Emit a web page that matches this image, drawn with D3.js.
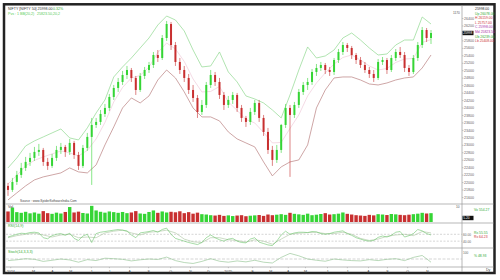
<!DOCTYPE html>
<html>
<head>
<meta charset="utf-8">
<script src="https://cdn.jsdelivr.net/npm/d3@7"></script>
<style>
body{margin:0;background:#fff}
svg{display:block;font-family:"Liberation Sans",Arial,sans-serif}
</style>
</head>
<body>
<script>
// weekly candles
var opens  = [21898,21790,22005,22192,22380,22541,22648,22809,22862,22541,22434,22648,22862,22943,22809,23050,22728,22434,22916,23211,
              23532,23613,23827,23988,24283,24524,24685,24872,25006,24792,24470,24846,25006,25140,25408,25328,25864,26239,25676,25221,
              25006,24792,24470,24256,23881,24068,24604,24872,24685,24336,24068,24202,24336,23988,23720,23613,23881,24122,23720,23345,
              22862,22594,22862,23532,23988,23800,24068,24417,24604,24685,24953,25060,25140,25006,24953,25274,25489,25676,25596,25408,
              25274,25140,25006,24899,24792,25221,25274,25006,25328,25489,25408,25060,24953,25328,25676,26078,25864];
var highs  = [21978,22112,22300,22514,22675,22782,22943,23023,22916,22648,22755,22970,23050,22996,23157,23104,22809,22996,23318,23720,
              23720,23934,24095,24363,24604,24792,24980,25114,25060,24846,24926,25087,25221,25489,25542,25944,26320,26293,25757,25328,
              25114,24899,24604,24336,24202,24685,25006,24953,24792,24417,24310,24417,24390,24068,23774,23988,24202,24202,23800,23452,
              22970,22996,23559,24095,24068,24149,24497,24685,24792,25033,25167,25221,25194,25087,25328,25569,25757,25730,25650,25462,
              25355,25221,25087,25006,25301,25355,25328,25408,25569,25623,25489,25140,25408,25757,26159,26132,26078];
var lows   = [21630,21737,21924,22112,22300,22434,22568,22702,22434,22326,22380,22568,22755,22675,22728,22621,22326,22380,22836,21924,
              23452,23532,23747,23908,24202,24417,24604,24765,24685,24336,24417,24765,24926,25060,25221,25274,25784,25542,25114,24899,
              24685,24363,24149,23720,23800,23988,24524,24578,24229,23934,23988,24095,23881,23613,23479,23532,23800,23613,23238,22755,
              22434,22514,22782,23452,22139,23720,23988,24336,24470,24604,24846,24980,24899,24846,24872,25194,25408,25489,25301,25167,
              25060,24926,24792,24685,24738,25140,24899,24953,25248,25328,24953,24846,24899,25248,25596,25757,25703];
var closes = [21790,22005,22192,22380,22541,22648,22809,22862,22541,22434,22648,22862,22943,22809,23050,22728,22434,22916,23211,23532,
              23613,23827,23988,24283,24524,24685,24872,25006,24792,24470,24846,25006,25140,25408,25328,25864,26239,25676,25221,25006,
              24792,24470,24256,23881,24068,24604,24872,24685,24336,24068,24202,24336,23988,23720,23613,23881,24122,23720,23345,22862,
              22594,22862,23532,23988,23800,24068,24417,24604,24685,24953,25060,25140,25006,24953,25274,25489,25676,25596,25408,25274,
              25140,25006,24899,24792,25221,25274,25006,25328,25489,25408,25060,24953,25328,25676,26078,25864,25998];

// bollinger bands, every second week
var upperBand = [22380,22648,22970,23104,23211,23318,23425,23184,23130,23452,23854,24202,24819,25087,25328,25596,25864,26212,26453,26346,
                 26052,25542,25087,25114,25489,24953,24685,24310,24229,24122,23934,23720,24336,25006,25623,25328,25382,25542,25864,25998,
                 25810,25596,25408,25435,25676,25810,25810,26427,26239];
var lowerBand = [21522,21710,21898,22058,22139,22192,22246,22380,22273,22246,22460,22996,23479,23988,24256,24122,24310,24738,25006,24792,
                 24417,23988,23747,23747,23640,23345,23157,23050,22943,22541,22166,22407,22541,22594,22996,23988,24470,24792,24819,24819,
                 24738,24631,24604,24658,24738,24792,24819,25060,25408];

var volumes = [6.2,8.5,5.8,5.4,6.0,5.1,5.6,4.9,6.4,5.2,4.8,5.5,5.0,5.9,8.8,5.6,6.1,5.3,5.0,9.5,
               6.8,6.0,5.5,6.2,5.8,5.4,5.9,5.2,5.6,6.4,5.0,4.8,5.9,6.8,5.4,6.2,5.6,6.0,5.7,6.3,
               5.2,5.8,4.9,5.5,4.6,4.4,4.0,3.8,4.2,3.6,3.9,3.5,3.8,4.0,3.4,3.7,3.9,4.1,3.6,4.4,
               4.0,4.3,4.6,4.2,5.4,4.8,4.5,4.2,4.9,4.0,4.3,4.7,5.2,4.4,4.6,4.9,5.6,4.8,4.4,4.0,
               3.8,3.6,4.2,3.9,4.6,4.4,4.1,4.7,4.5,4.2,4.0,4.3,4.6,4.9,5.4,5.0,5.2];

var rsi = [52,56,60,63,62,65,66,64,50,47,56,60,62,57,63,48,42,55,60,36,
           62,66,68,70,72,74,72,70,58,50,64,66,68,71,66,74,78,60,48,44,
           40,36,33,30,36,50,58,50,44,40,46,48,40,36,35,46,50,37,33,29,
           27,40,58,69,60,64,66,66,65,68,67,62,60,62,66,68,70,62,57,50,
           46,42,40,42,51,55,52,57,66,68,52,56,62,74,70,62,58];
var rsiSignal = [50,56,60,63,58,52,58,60,50,52,50,64,69,72,64,58,66,68,72,64,
                 46,38,36,50,50,44,42,37,44,40,31,46,60,63,65,66,62,62,66,60,
                 48,42,46,54,58,60,56,68,64];
var stoch = [40,45,52,48,35,42,50,44,30,46,40,55,52,48,38,45,50,47,62,40,
             28,22,35,52,36,30,38,32,42,30,25,60,85,70,50,42,36,50,44,40,
             38,46,40,48,52,40,60,72,30];

var priceTicks = d3.range(21600, 26401, 200);
var monthTickWeeks = [0.5,5.7,10,14.1,18.8,22.9,27.5,31.8,36.8,41.3,45.4,49.9,55.4,59.5,63.5,67.4,72.4,76.9,81.7,86,90.6,95.1];
var monthLabels = ['2024','M','A','M','J','J','A','S','O','N','D','2025','F','M','A','M','J','J','A','S','O','N'];

var priceLegend = [['25998.00','#222'],['Up 26078.00','#3a3'],['H 26159.00','#c33'],['L 25757.00','#c33'],
                   ['C 25998.00','#a3a'],['Md 25823.50','#a3a'],['Ub 26239.00','#3a3'],['Lb 25408.00','#c33']];

var W = 500, H = 280;
var GREEN = '#35d535', RED = '#c83030';
var bandStep = 2;
var lastClose = closes[closes.length - 1];

var svg = d3.select('body').append('svg').attr('width', W).attr('height', H);

var x = d3.scaleLinear().domain([0, closes.length - 1]).range([8, 431]);
var y = d3.scaleLinear().domain([21600, 26400]).range([197, 18]);
var yVol = d3.scaleLinear().domain([0, 10]).range([222, 205]);
var yRsi = d3.scaleLinear().domain([20, 90]).range([248, 224]);
var ySto = d3.scaleLinear().domain([0, 100]).range([267, 251]);

// frame + panel separators
svg.append('rect').attr('x', 4).attr('y', 4.3).attr('width', 490.5).attr('height', 268.7)
    .attr('fill', '#fff').attr('stroke', '#222').attr('stroke-width', 2.5);
[204, 223, 248, 267].forEach(function(py){
    svg.append('line').attr('x1', 5.5).attr('x2', 493.5).attr('y1', py).attr('y2', py)
        .attr('stroke', '#9a9a9a').attr('stroke-width', 0.7);
});
svg.append('line').attr('x1', 462).attr('x2', 462).attr('y1', 5.5).attr('y2', 272)
    .attr('stroke', '#9a9a9a').attr('stroke-width', 0.7);

// price axis (the tick hidden behind the last-value box is skipped)
var yAxis = svg.append('g').attr('transform', 'translate(462,0)')
    .call(d3.axisRight(y).tickValues(priceTicks.filter(function(t){ return Math.abs(y(t) - y(lastClose)) > 4; }))
        .tickSize(1.5).tickFormat(d3.format('d')));
yAxis.select('.domain').remove();
yAxis.selectAll('line').attr('stroke', '#999').attr('stroke-width', 0.5);
yAxis.selectAll('text').attr('font-size', 3.6).attr('fill', '#666').attr('x', 2);

// bands
var band = d3.line().x(function(d, i){ return x(i * bandStep); }).y(function(d){ return y(d); });
var midBand = upperBand.map(function(u, i){ return (u + lowerBand[i]) / 2; });
svg.append('path').attr('d', band(midBand)).attr('fill', 'none').attr('stroke', '#ecc3d3').attr('stroke-width', 0.6);
svg.append('path').attr('d', band(upperBand)).attr('fill', 'none').attr('stroke', '#8fd88f').attr('stroke-width', 0.7);
svg.append('path').attr('d', band(lowerBand)).attr('fill', 'none').attr('stroke', '#b98080').attr('stroke-width', 0.7);

// candles
var candles = svg.append('g').selectAll('g').data(closes).enter().append('g');
candles.append('line')
    .attr('x1', function(d, i){ return x(i); }).attr('x2', function(d, i){ return x(i); })
    .attr('y1', function(d, i){ return y(highs[i]); }).attr('y2', function(d, i){ return y(lows[i]); })
    .attr('stroke', function(d, i){ return d >= opens[i] ? GREEN : RED; }).attr('stroke-width', 0.6);
candles.append('rect')
    .attr('x', function(d, i){ return x(i) - 1; }).attr('width', 2)
    .attr('y', function(d, i){ return y(Math.max(d, opens[i])); })
    .attr('height', function(d, i){ return Math.max(0.7, Math.abs(y(d) - y(opens[i]))); })
    .attr('fill', function(d, i){ return d >= opens[i] ? GREEN : RED; });

// volume
svg.append('g').selectAll('rect').data(volumes).enter().append('rect')
    .attr('x', function(d, i){ return x(i) - 1.7; }).attr('width', 3.4)
    .attr('y', function(d){ return yVol(d); })
    .attr('height', function(d){ return yVol(0) - yVol(d); })
    .attr('fill', function(d, i){ return closes[i] >= opens[i] ? GREEN : RED; });

// rsi
[60, 40].forEach(function(v){
    svg.append('line').attr('x1', 6).attr('x2', 462).attr('y1', yRsi(v)).attr('y2', yRsi(v))
        .attr('stroke', '#aaa').attr('stroke-width', 0.5).attr('stroke-dasharray', '2,1.5');
});
var rsiLine = d3.line().x(function(d, i){ return x(i); }).y(function(d){ return yRsi(d); });
var sigLine = d3.line().x(function(d, i){ return x(i * bandStep); }).y(function(d){ return yRsi(d); });
svg.append('path').attr('d', sigLine(rsiSignal)).attr('fill', 'none').attr('stroke', '#a9c4a0').attr('stroke-width', 0.6);
svg.append('path').attr('d', rsiLine(rsi)).attr('fill', 'none').attr('stroke', '#6cc46c').attr('stroke-width', 0.6);

// stochastic
svg.append('line').attr('x1', 6).attr('x2', 462).attr('y1', ySto(50)).attr('y2', ySto(50))
    .attr('stroke', '#aaa').attr('stroke-width', 0.5).attr('stroke-dasharray', '3,1.5');
var stoLine = d3.line().x(function(d, i){ return x(i * bandStep); }).y(function(d){ return ySto(d); });
svg.append('path').attr('d', stoLine(stoch)).attr('fill', 'none').attr('stroke', '#8bbf8b').attr('stroke-width', 0.6);

// time axis
var xAxis = svg.append('g').attr('transform', 'translate(0,267)')
    .call(d3.axisBottom(x).tickValues(monthTickWeeks).tickSize(1.2)
        .tickFormat(function(d, i){ return monthLabels[i]; }));
xAxis.select('.domain').remove();
xAxis.selectAll('line').attr('stroke', '#999').attr('stroke-width', 0.5);
xAxis.selectAll('text').attr('font-size', 3.6).attr('fill', '#444').attr('dy', '0.4em');

// texts
function txt(tx, ty, s, col, fs){
    return svg.append('text').attr('x', tx).attr('y', ty).text(s)
        .attr('font-size', fs || 3.6).attr('fill', col);
}
txt(8, 10, 'NIFTY [NIFTY 50] 25998.00', '#333');
txt(53, 10, '0.32%', '#3a3');
txt(8, 15, 'Pvs : 1  BB(20,2)', '#5c5');
txt(37, 15, '25823.50,20,2', '#5c5');
txt(453, 14, '1170', '#555', 3.2);
txt(20, 201.5, 'Source : www.SpiderSoftwareIndia.Com', '#444', 3.2);
txt(8, 208, 'Vol', '#444');
txt(8, 227, 'RSI(14,9)', '#3a3');
txt(8, 252.5, 'Stoch(14,3,3,3)', '#3a3');
txt(456, 208, '10', '#555', 3.2);
txt(463, 236, '60.00', '#666', 3.2);
txt(463, 243, '40.00', '#666', 3.2);
txt(463, 254, '100', '#666', 3.2);
txt(486, 270.5, 'Dy', '#444');

priceLegend.forEach(function(p, i){
    txt(475, 10 + i * 4.6, p[0], p[1], 3.4);
});
txt(474, 211, 'Vo 554.27', '#3a3', 3.4);
txt(474, 234, 'Rs 55.55', '#3a3', 3.4);
txt(474, 238, 'Rs 64.23', '#c33', 3.4);
txt(474, 257, '% 48.93', '#3a3', 3.4);

// black last-value boxes on the axis
function box(by, s){
    svg.append('rect').attr('x', 462.5).attr('y', by - 2.2).attr('width', 11).attr('height', 4.4).attr('fill', '#111');
    svg.append('text').attr('x', 463.3).attr('y', by + 1.2).text(s).attr('font-size', 3.2).attr('fill', '#fff');
}
box(y(lastClose), d3.format('.0f')(lastClose));
box(218, '5.20');
</script>
</body>
</html>
